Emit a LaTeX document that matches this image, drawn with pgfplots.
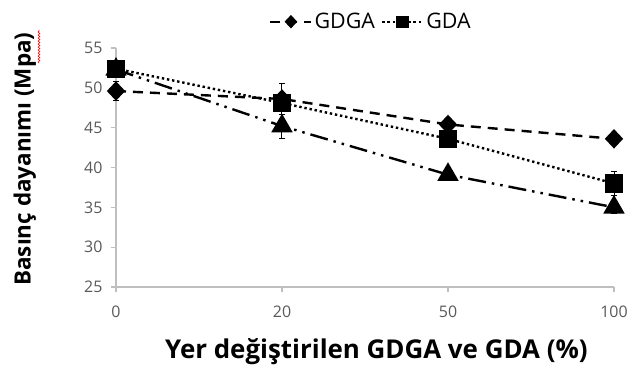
\documentclass[border=0pt]{standalone}
\usepackage{pgfplots}
\pgfplotsset{compat=1.18}
\usepackage{fontspec}
\setmainfont{Open Sans}
\usetikzlibrary{decorations.pathmorphing}
\definecolor{axgray}{HTML}{BFBFBF}
\definecolor{tickgray}{HTML}{595959}
\begin{document}
\begin{tikzpicture}
\begin{axis}[
  scale only axis,
  width=498bp, height=239bp,
  xmin=0, xmax=3, ymin=25, ymax=55,
  xtick={0,1,2,3}, xticklabels={0,20,50,100},
  ytick={25,30,...,55},
  axis x line*=bottom, axis y line*=left,
  axis line style={axgray, line width=1.2bp},
  tick style={axgray, line width=1.2bp},
  tick align=outside, major tick length=5bp,
  clip=false,
  /pgf/number format/assume math mode=true,
  ticklabel style={font=\fontsize{16}{19}\selectfont, text=tickgray},
  xticklabel style={yshift=-10bp},
  yticklabel style={xshift=-5bp},
  xlabel={Yer değiştirilen GDGA ve GDA (\%)},
  xlabel style={font=\fontsize{26}{30}\selectfont\bfseries, at={(axis description cs:0.523,-0.272)}, anchor=center},
  ylabel={Basınç dayanımı (Mpa)},
  ylabel style={font=\fontsize{22.5}{27}\selectfont\bfseries, at={(axis description cs:-0.183,0.535)}, anchor=center},
  legend columns=2,
  legend style={draw=none, fill=none, font=\fontsize{21.5}{25}\selectfont,
    at={(axis description cs:0.512,1.11)}, anchor=center,
    /tikz/every even column/.append style={column sep=4bp}},
  legend image code/.code={\draw[#1] (0bp,0bp) -- (41bp,0bp); \draw[#1, only marks, solid, mark size=5bp] plot coordinates {(20.5bp,0bp)};},
  every axis plot/.append style={black, line width=2.4bp},
  error bars/error bar style={black, line width=1bp, solid},
  error bars/error mark options={rotate=90, mark size=3bp, line width=1bp, black},
]
% third series (dash-dot, triangle)
\addplot[forget plot, dash pattern=on 18bp off 6bp on 2.5bp off 6bp on 2.5bp off 6bp,
  mark=triangle*, mark size=10bp, mark options={solid},
  error bars/.cd, y dir=both, y explicit]
  coordinates {(0,52.3) +- (0,0.5) (1,45.2) +- (0,1.5) (2,39.1) +- (0,0.5) (3,35.0) +- (0,0.8)};
% GDGA
\addplot[dash pattern=on 10bp off 7bp,
  mark=diamond*, mark size=8bp, mark options={solid, xscale=1.25},
  error bars/.cd, y dir=both, y explicit]
  coordinates {(0,49.6) +- (0,1.2) (1,48.6) +- (0,0.8) (2,45.4) +- (0,0.5) (3,43.6) +- (0,0.5)};
\addlegendentry{GDGA}
% GDA
\addplot[dash pattern=on 2.4bp off 2.8bp,
  mark=square*, mark size=8bp, mark options={solid},
  error bars/.cd, y dir=both, y explicit]
  coordinates {(0,52.4) +- (0,0.5) (1,48.1) +- (0,2.5) (2,43.6) +- (0,1.0) (3,38.0) +- (0,1.5)};
\addlegendentry{GDA}
\coordinate (sw) at (rel axis cs:0,0);
\end{axis}
\draw[red, line width=0.6bp, decorate, decoration={snake, amplitude=0.9bp, segment length=3bp}]
  ([shift={(-77bp,224bp)}]sw) -- ([shift={(-77bp,257bp)}]sw);
\pgfresetboundingbox
\path ([shift={(-116bp,-82bp)}]sw) rectangle ([shift={(516bp,287bp)}]sw);
\end{tikzpicture}
\end{document}
